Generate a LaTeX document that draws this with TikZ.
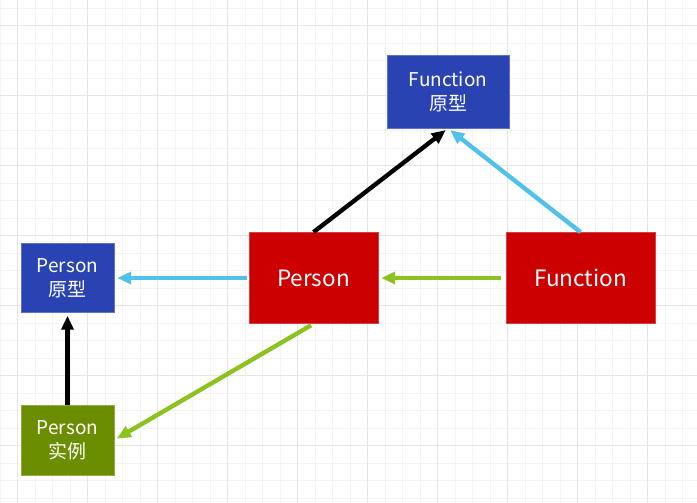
\documentclass[tikz,border=0pt]{standalone}
\usepackage{fontspec}
\setmainfont{Noto Sans CJK SC}
\usetikzlibrary{arrows.meta}
\definecolor{boxblue}{HTML}{2A43B3}
\definecolor{boxred}{HTML}{CC0000}
\definecolor{boxgreen}{HTML}{6B8E00}
\definecolor{arrblue}{HTML}{4FC1EA}
\definecolor{arrgreen}{HTML}{8CC21F}
\definecolor{gridminor}{HTML}{F3F3F3}
\definecolor{gridmajor}{HTML}{E6E6E6}

\begin{document}
\begin{tikzpicture}[x=0.025cm,y=-0.025cm,>={Triangle[length=10pt,width=8.5pt]},
    minorgrid/.style={gridminor,line width=0.7pt},
    majorgrid/.style={gridmajor,line width=0.7pt},
    box/.style={text=white,align=center,inner sep=0pt,draw=#1!75!white,line width=0.5pt,fill=#1},
    big/.style={font=\fontsize{16}{19}\selectfont},
    small/.style={font=\fontsize{13.5}{17}\selectfont},
    link/.style={line width=3.1pt,->,shorten >=2pt}]

    \useasboundingbox (0,0) rectangle (697,503);
    \fill[white] (0,0) rectangle (697,503);

    % grid paper
    \foreach \i in {0,...,39} \draw[minorgrid] ({17.5*\i},0) -- ({17.5*\i},503);
    \foreach \j in {0,...,28} \draw[minorgrid] (0,{8+17.5*\j}) -- (697,{8+17.5*\j});
    \foreach \i in {0,...,9} \draw[majorgrid] ({17.5+70*\i},0) -- ({17.5+70*\i},503);
    \foreach \j in {0,...,6} \draw[majorgrid] (0,{25.5+70*\j}) -- (697,{25.5+70*\j});

    % boxes
    \node[box=boxblue,small,minimum width=3.05cm,minimum height=1.825cm] (fproto) at (448,91.5) {Function\\原型};
    \node[box=boxred,big,minimum width=3.225cm,minimum height=2.275cm] (person) at (313.5,278) {Person};
    \node[box=boxred,big,minimum width=3.725cm,minimum height=2.275cm] (func) at (580.5,278) {Function};
    \node[box=boxblue,small,minimum width=2.325cm,minimum height=1.725cm] (pproto) at (67.5,278) {Person\\原型};
    \node[box=boxgreen,small,minimum width=2.325cm,minimum height=1.75cm] (pinst) at (67.5,440) {Person\\实例};

    % links
    \draw[link,black] (person.north) -- (fproto.south);
    \draw[link,arrblue] (func.north) -- (fproto.south);
    \draw[link,arrblue,shorten <=1pt] (person.west) -- (pproto.east);
    \draw[link,arrgreen,shorten <=3pt] (func.west) -- (person.east);
    \draw[link,arrgreen,shorten <=2pt] (person.south) -- (pinst.east);
    \draw[link,black] (pinst.north) -- (pproto.south);

\end{tikzpicture}
\end{document}
